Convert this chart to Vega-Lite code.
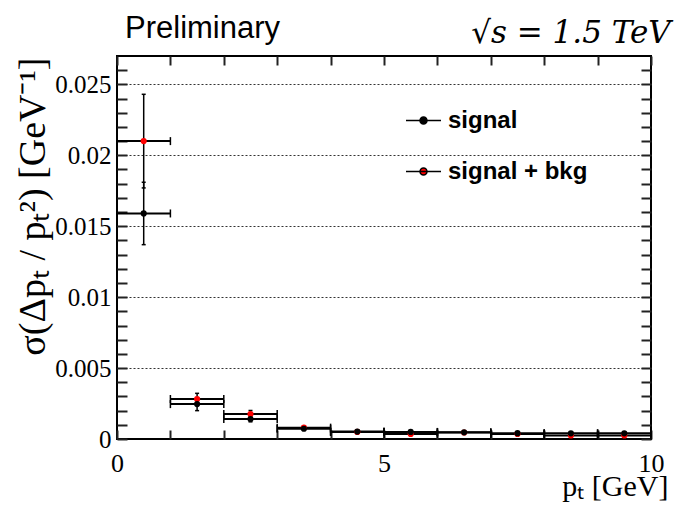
{
  "$schema": "https://vega.github.io/schema/vega-lite/v6.json",
  "width": 534,
  "height": 383,
  "autosize": {"type": "none"},
  "padding": {"left": 117, "top": 56, "right": 23, "bottom": 71},
  "background": "white",
  "config": {
    "view": {"stroke": "black", "strokeWidth": 2},
    "font": "Liberation Serif"
  },
  "data": {
    "values": [
      {"series": "signal + bkg", "pt": 0.5, "ptlo": 0, "pthi": 1, "sigma": 0.0210, "lo": 0.0177, "hi": 0.0243},
      {"series": "signal + bkg", "pt": 1.5, "ptlo": 1, "pthi": 2, "sigma": 0.00282, "lo": 0.00242, "hi": 0.00322},
      {"series": "signal + bkg", "pt": 2.5, "ptlo": 2, "pthi": 3, "sigma": 0.00176, "lo": 0.00151, "hi": 0.00201},
      {"series": "signal + bkg", "pt": 3.5, "ptlo": 3, "pthi": 4, "sigma": 0.00080, "lo": 0.00070, "hi": 0.00090},
      {"series": "signal + bkg", "pt": 4.5, "ptlo": 4, "pthi": 5, "sigma": 0.00050, "lo": 0.00045, "hi": 0.00055},
      {"series": "signal + bkg", "pt": 5.5, "ptlo": 5, "pthi": 6, "sigma": 0.00035, "lo": 0.00030, "hi": 0.00040},
      {"series": "signal + bkg", "pt": 6.5, "ptlo": 6, "pthi": 7, "sigma": 0.00046, "lo": 0.00041, "hi": 0.00051},
      {"series": "signal + bkg", "pt": 7.5, "ptlo": 7, "pthi": 8, "sigma": 0.00036, "lo": 0.00032, "hi": 0.00040},
      {"series": "signal + bkg", "pt": 8.5, "ptlo": 8, "pthi": 9, "sigma": 0.00025, "lo": 0.00021, "hi": 0.00029},
      {"series": "signal + bkg", "pt": 9.5, "ptlo": 9, "pthi": 10, "sigma": 0.00025, "lo": 0.00021, "hi": 0.00029},
      {"series": "signal", "pt": 0.5, "ptlo": 0, "pthi": 1, "sigma": 0.0159, "lo": 0.0137, "hi": 0.0181},
      {"series": "signal", "pt": 1.5, "ptlo": 1, "pthi": 2, "sigma": 0.00246, "lo": 0.00200, "hi": 0.00292},
      {"series": "signal", "pt": 2.5, "ptlo": 2, "pthi": 3, "sigma": 0.00141, "lo": 0.00121, "hi": 0.00161},
      {"series": "signal", "pt": 3.5, "ptlo": 3, "pthi": 4, "sigma": 0.00072, "lo": 0.00064, "hi": 0.00080},
      {"series": "signal", "pt": 4.5, "ptlo": 4, "pthi": 5, "sigma": 0.00052, "lo": 0.00047, "hi": 0.00057},
      {"series": "signal", "pt": 5.5, "ptlo": 5, "pthi": 6, "sigma": 0.00050, "lo": 0.00045, "hi": 0.00055},
      {"series": "signal", "pt": 6.5, "ptlo": 6, "pthi": 7, "sigma": 0.00047, "lo": 0.00042, "hi": 0.00052},
      {"series": "signal", "pt": 7.5, "ptlo": 7, "pthi": 8, "sigma": 0.00041, "lo": 0.00037, "hi": 0.00045},
      {"series": "signal", "pt": 8.5, "ptlo": 8, "pthi": 9, "sigma": 0.00040, "lo": 0.00036, "hi": 0.00044},
      {"series": "signal", "pt": 9.5, "ptlo": 9, "pthi": 10, "sigma": 0.00040, "lo": 0.00036, "hi": 0.00044}
    ]
  },
  "layer": [
    {
      "mark": {"type": "rule", "color": "black", "strokeWidth": 2},
      "encoding": {
        "x": {"field": "ptlo", "type": "quantitative", "scale": {"domain": [0, 10], "nice": false, "zero": false}, "axis": null},
        "x2": {"field": "pthi"},
        "y": {"field": "sigma", "type": "quantitative", "scale": {"domain": [0, 0.027], "nice": false}, "axis": null}
      }
    },
    {
      "mark": {"type": "rule", "color": "black", "strokeWidth": 1.5},
      "encoding": {
        "x": {"field": "pt", "type": "quantitative", "axis": null},
        "y": {"field": "lo", "type": "quantitative", "axis": null},
        "y2": {"field": "hi"}
      }
    },
    {
      "mark": {"type": "point", "shape": "M0,-1L0,1", "size": 64, "filled": false, "stroke": "black", "strokeWidth": 1.5, "opacity": 1},
      "encoding": {
        "x": {"field": "ptlo", "type": "quantitative", "axis": null},
        "y": {"field": "sigma", "type": "quantitative", "axis": null}
      }
    },
    {
      "mark": {"type": "point", "shape": "M0,-1L0,1", "size": 64, "filled": false, "stroke": "black", "strokeWidth": 1.5, "opacity": 1},
      "encoding": {
        "x": {"field": "pthi", "type": "quantitative", "axis": null},
        "y": {"field": "sigma", "type": "quantitative", "axis": null}
      }
    },
    {
      "mark": {"type": "point", "shape": "M-1,0L1,0", "size": 16, "filled": false, "stroke": "black", "strokeWidth": 1.5, "opacity": 1},
      "encoding": {
        "x": {"field": "pt", "type": "quantitative", "axis": null},
        "y": {"field": "lo", "type": "quantitative", "axis": null}
      }
    },
    {
      "mark": {"type": "point", "shape": "M-1,0L1,0", "size": 16, "filled": false, "stroke": "black", "strokeWidth": 1.5, "opacity": 1},
      "encoding": {
        "x": {"field": "pt", "type": "quantitative", "axis": null},
        "y": {"field": "hi", "type": "quantitative", "axis": null}
      }
    },
    {
      "mark": {"type": "point", "filled": true, "size": 38, "opacity": 1},
      "encoding": {
        "x": {
          "field": "pt", "type": "quantitative",
          "scale": {"domain": [0, 10], "nice": false, "zero": false},
          "axis": {
            "orient": "bottom",
            "title": "pₜ [GeV]",
            "titleFont": "Liberation Serif", "titleFontSize": 30, "titleFontWeight": "normal", "titleColor": "black",
            "titleAlign": "right", "titleBaseline": "alphabetic", "titleX": 551, "titleY": 56,
            "values": [0, 1, 2, 3, 4, 5, 6, 7, 8, 9, 10],
            "labelExpr": "datum.value % 5 === 0 ? format(datum.value, 'd') : ''",
            "labelFont": "Liberation Serif", "labelFontSize": 26, "labelColor": "black",
            "labelPadding": 20, "labelFlush": false, "labelOverlap": false,
            "ticks": true, "tickSize": -9, "tickColor": "#222222", "tickWidth": 2,
            "domain": false, "grid": false
          }
        },
        "y": {
          "field": "sigma", "type": "quantitative",
          "scale": {"domain": [0, 0.027], "nice": false},
          "axis": {
            "orient": "left",
            "title": "σ(Δpₜ / pₜ²)  [GeV⁻¹]",
            "titleFont": "Liberation Serif", "titleFontSize": 38, "titleFontWeight": "normal", "titleColor": "black",
            "titleAngle": -90, "titleAlign": "right", "titleBaseline": "middle", "titleX": -84, "titleY": 1,
            "values": [0, 0.001, 0.002, 0.003, 0.004, 0.005, 0.006, 0.007, 0.008, 0.009, 0.01, 0.011, 0.012, 0.013, 0.014, 0.015, 0.016, 0.017, 0.018, 0.019, 0.02, 0.021, 0.022, 0.023, 0.024, 0.025, 0.026],
            "labelExpr": "abs(datum.value*200 - round(datum.value*200)) < 0.001 ? format(datum.value, '~g') : ''",
            "labelFont": "Liberation Serif", "labelFontSize": 25, "labelColor": "black",
            "labelPadding": 16, "labelOverlap": false, "labelFlush": false,
            "ticks": true, "tickSize": -10, "tickColor": "#222222", "tickWidth": 2,
            "grid": true, "gridDash": [2, 2], "gridColor": "#333", "gridWidth": 1,
            "gridOpacity": {"condition": {"test": "abs(datum.value*200 - round(datum.value*200)) < 0.001 && datum.value > 0", "value": 1}, "value": 0},
            "domain": false
          }
        },
        "color": {
          "field": "series", "type": "nominal",
          "scale": {"domain": ["signal", "signal + bkg"], "range": ["black", "#ff0000"]},
          "legend": {
            "title": null,
            "orient": "none", "legendX": 288, "legendY": 46,
            "symbolType": "M-1,0L1,0M-0.2,0A0.2,0.2,0,1,1,0.2,0A0.2,0.2,0,1,1,-0.2,0Z",
            "symbolSize": 1225,
            "symbolStrokeColor": "black", "symbolStrokeWidth": 1.5,
            "labelFont": "Liberation Sans", "labelFontSize": 24, "labelFontWeight": "bold", "labelColor": "black",
            "labelOffset": 6, "rowPadding": 20
          }
        }
      }
    },
    {
      "mark": {"type": "point", "opacity": 0},
      "encoding": {
        "x": {
          "field": "pt", "type": "quantitative",
          "axis": {"orient": "top", "title": null, "labels": false, "domain": false, "grid": false,
            "values": [0, 1, 2, 3, 4, 5, 6, 7, 8, 9, 10], "tickSize": -9, "tickColor": "#222222", "tickWidth": 2}
        },
        "y": {
          "field": "sigma", "type": "quantitative",
          "axis": {"orient": "right", "title": null, "labels": false, "domain": false, "grid": false,
            "values": [0, 0.001, 0.002, 0.003, 0.004, 0.005, 0.006, 0.007, 0.008, 0.009, 0.01, 0.011, 0.012, 0.013, 0.014, 0.015, 0.016, 0.017, 0.018, 0.019, 0.02, 0.021, 0.022, 0.023, 0.024, 0.025, 0.026],
            "tickSize": -10, "tickColor": "#222222", "tickWidth": 2}
        }
      }
    },
    {
      "data": {"values": [{"label": "Preliminary"}]},
      "mark": {"type": "text", "align": "left", "baseline": "alphabetic", "font": "Liberation Sans", "fontSize": 31, "color": "black"},
      "encoding": {
        "x": {"datum": 0.15, "type": "quantitative", "axis": null},
        "y": {"datum": 0.02827, "type": "quantitative", "axis": null},
        "text": {"field": "label"}
      }
    },
    {
      "data": {"values": [{"label": "√s = 1.5 TeV"}]},
      "mark": {"type": "text", "align": "right", "baseline": "alphabetic", "font": "DejaVu Serif", "fontSize": 31, "fontStyle": "italic", "color": "black"},
      "encoding": {
        "x": {"datum": 10.37, "type": "quantitative", "axis": null},
        "y": {"datum": 0.02792, "type": "quantitative", "axis": null},
        "text": {"field": "label"}
      }
    }
  ],
  "resolve": {"axis": {"x": "independent", "y": "independent"}}
}
